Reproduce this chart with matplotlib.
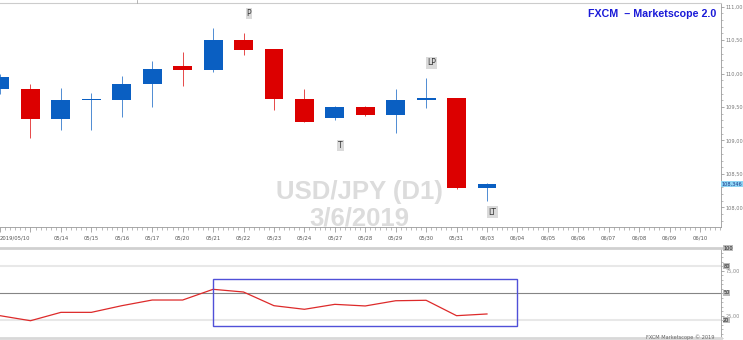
import matplotlib.pyplot as plt
from matplotlib.patches import Rectangle
from matplotlib.lines import Line2D
from matplotlib.ticker import MultipleLocator

# USD/JPY daily candles
dates = ["2019/05/10", "05/13", "05/14", "05/15", "05/16", "05/17", "05/20", "05/21",
         "05/22", "05/23", "05/24", "05/27", "05/28", "05/29", "05/30", "05/31", "06/03"]
future_dates = ["06/04", "06/05", "06/06", "06/07", "06/08", "06/09", "06/10"]

opens = [109.77, 109.77, 109.32, 109.60, 109.61, 109.84, 110.11, 110.06,
         110.50, 110.36, 109.62, 109.33, 109.50, 109.38, 109.60, 109.63, 108.29]
highs = [110.00, 109.85, 109.78, 109.71, 109.96, 110.19, 110.33, 110.68,
         110.61, 110.37, 109.77, 109.52, 109.52, 109.77, 109.93, 109.64, 108.37]
lows = [109.70, 109.03, 109.16, 109.16, 109.35, 109.50, 109.82, 110.03,
        110.28, 109.46, 109.27, 109.31, 109.36, 109.11, 109.48, 108.28, 108.09]
closes = [109.95, 109.32, 109.60, 109.61, 109.84, 110.07, 110.06, 110.50,
          110.35, 109.62, 109.28, 109.50, 109.38, 109.60, 109.63, 108.29, 108.346]

rsi = [24.8, 19.2, 28.5, 28.5, 35.9, 42.2, 42.2, 54.1, 51.1, 35.9,
       31.9, 37.4, 35.6, 41.4, 41.9, 24.8, 26.7]

# pivot markers: (text, candle index, price)
markers = [("P", 8, 110.90), ("LP", 14, 110.16), ("T", 11, 108.92), ("LT", 16, 107.93)]

# highlight box on the oscillator
box_start, box_end = 7, 17
box_low, box_high = 13.7, 65.6

price_ticks = [108.0, 108.5, 109.0, 109.5, 110.0, 110.5, 111.0]
last_price = 108.346
osc_tags = [100, 80, 50, 20]

UP = "#0a5fc2"
DOWN = "#dc0000"

fig = plt.figure(figsize=(7.43, 3.4), dpi=100)
ax = fig.add_axes([0, 113 / 340, 721 / 743, 224 / 340])
ax2 = fig.add_axes([0, 2 / 340, 721 / 743, 90 / 340])

n = len(dates)
idx = list(range(n))

# candles
for i in idx:
    o, h, l, c = opens[i], highs[i], lows[i], closes[i]
    col = UP if c >= o else DOWN
    ax.vlines(i, l, h, color=col, lw=0.5, zorder=2)
    body = max(abs(c - o), 0.022)
    ax.bar(i, body, bottom=min(o, c), width=0.62, color=col, zorder=3, linewidth=0)

for txt, i, p in markers:
    ax.text(i + 0.18, p, txt, fontsize=5.5, color="#333333", ha="center", va="center",
            bbox=dict(boxstyle="square,pad=0.15", fc="#dadada", ec="none"), zorder=4)

ax.text(11.8, 108.23, "USD/JPY (D1)", fontsize=18.5, fontweight="bold", color="#dcdcdc",
        ha="center", va="center", family="Liberation Sans", zorder=1)
ax.text(11.8, 107.84, "3/6/2019", fontsize=18.5, fontweight="bold", color="#dcdcdc",
        ha="center", va="center", family="Liberation Sans", zorder=1)

ax.text(0.993, 0.975, "FXCM  \u2013 Marketscope 2.0", transform=ax.transAxes, fontsize=7.7,
        fontweight="bold", color="#1a1ad8", ha="right", va="top", family="Liberation Sans")

ax.set_xlim(-0.002, 23.69)
ax.set_ylim(107.707, 111.055)

# x axis
all_labels = dates + future_dates
ax.set_xticks(range(len(all_labels)))
shown = [lab if k != 1 else "" for k, lab in enumerate(all_labels)]
ax.set_xticklabels(shown, fontsize=3.8, color="#555555")
ax.get_xticklabels()[0].set_ha("left")
ax.xaxis.set_minor_locator(MultipleLocator(1 / 6))
ax.tick_params(axis="x", which="major", length=3.5, width=0.5, color="#888888", pad=2.5)
ax.tick_params(axis="x", which="minor", length=1.8, width=0.4, color="#888888")

# price axis on right
ax.yaxis.tick_right()
ax.set_yticks(price_ticks)
ax.set_yticklabels([f"{p:.2f}".replace(".", ",") for p in price_ticks], fontsize=3.6, color="#777777")
ax.yaxis.set_minor_locator(MultipleLocator(0.1))
ax.tick_params(axis="y", which="major", length=2.5, width=0.5, color="#888888", pad=1)
ax.tick_params(axis="y", which="minor", length=1.3, width=0.4, color="#888888")
ax.text(1.001, last_price, f"{last_price:.3f}".replace(".", ","), fontsize=3.6, color="#1a3a8a",
        ha="left", va="center", transform=ax.get_yaxis_transform(),
        bbox=dict(boxstyle="square,pad=0.15", fc="#8fd6f5", ec="none"), clip_on=False)

ax.spines["left"].set_visible(False)
ax.spines["top"].set_color("#cccccc")
ax.spines["top"].set_linewidth(0.8)
ax.spines["right"].set_color("#999999")
ax.spines["right"].set_linewidth(0.6)
ax.spines["bottom"].set_color("#999999")
ax.spines["bottom"].set_linewidth(0.6)

# oscillator panel
for lvl, col, lw in [(80, "#e8e8e8", 1.5), (20, "#e8e8e8", 1.5), (50, "#858585", 0.8)]:
    ax2.axhline(lvl, color=col, lw=lw, zorder=1)
ax2.plot(idx, rsi, color="#dd2a2a", lw=0.9, zorder=3)
ax2.add_patch(Rectangle((box_start, box_low), box_end - box_start, box_high - box_low,
                        fill=False, ec="#5050d8", lw=1.0, zorder=4))
ax2.set_xlim(ax.get_xlim())
ax2.set_ylim(0, 100)
ax2.set_xticks([])
ax2.yaxis.tick_right()
ax2.set_yticks([25, 75])
ax2.set_yticklabels(["25,00", "75,00"], fontsize=3.6, color="#888888")
ax2.yaxis.set_minor_locator(MultipleLocator(5))
ax2.tick_params(axis="y", which="major", length=2.5, width=0.5, color="#888888", pad=1)
ax2.tick_params(axis="y", which="minor", length=1.3, width=0.4, color="#888888")
for v in osc_tags:
    ax2.text(1.003, v, str(v), fontsize=3.6, color="#222222", ha="left", va="center",
             transform=ax2.get_yaxis_transform(),
             bbox=dict(boxstyle="square,pad=0.1", fc="#bbbbbb", ec="none"), clip_on=False)
ax2.spines["left"].set_visible(False)
ax2.spines["top"].set_color("#d0d0d0")
ax2.spines["top"].set_linewidth(2)
ax2.spines["bottom"].set_color("#d8d8d8")
ax2.spines["bottom"].set_linewidth(2)
ax2.spines["right"].set_color("#999999")
ax2.spines["right"].set_linewidth(0.6)

fig.text(714 / 743, 0.0, "FXCM Marketscope \u00a9 2019", fontsize=3.6, color="#666666",
         ha="right", va="bottom")
fig.add_artist(Line2D([137 / 743, 137 / 743], [1.0, 337 / 340], color="#aaaaaa", lw=0.6))

fig.savefig("out.png", dpi=100, facecolor="white")
